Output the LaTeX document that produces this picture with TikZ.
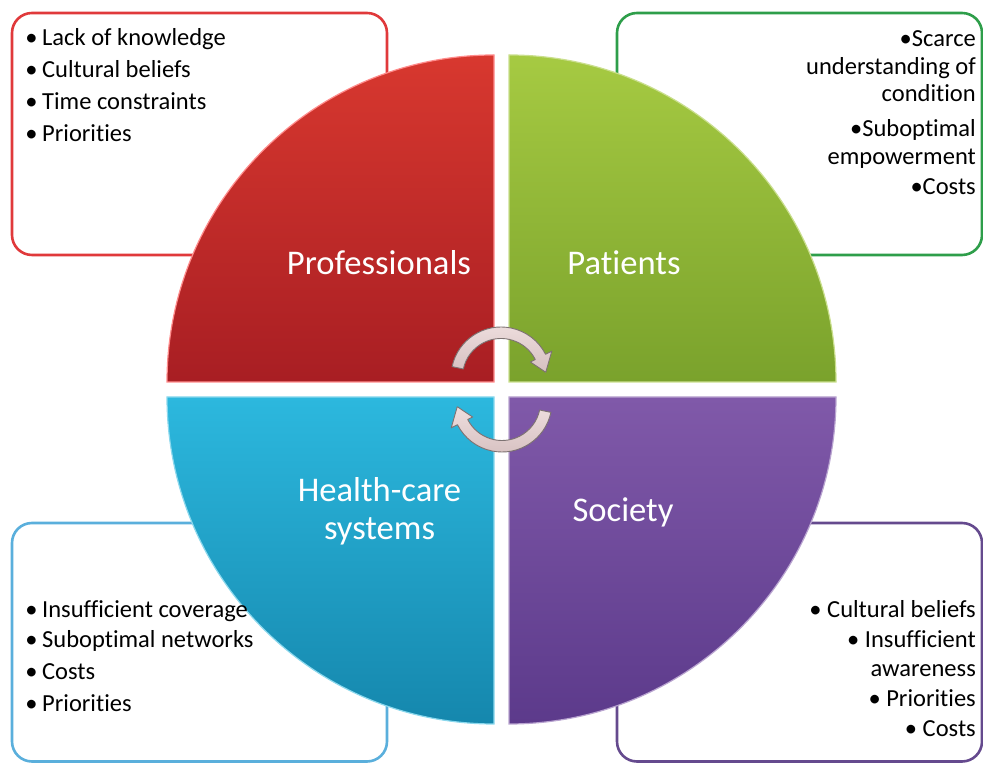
\documentclass[tikz,border=0pt]{standalone}
\usepackage{fontspec}
\setmainfont{Carlito}[Ligatures={NoCommon}]
\definecolor{redbox}{HTML}{E0393B}
\definecolor{greenbox}{HTML}{2E9E4A}
\definecolor{bluebox}{HTML}{5AAFDC}
\definecolor{purplebox}{HTML}{654A8E}
\definecolor{redtop}{HTML}{D8382F}
\definecolor{redbot}{HTML}{A81E23}
\definecolor{greentop}{HTML}{A6CA42}
\definecolor{greenbot}{HTML}{7AA22C}
\definecolor{bluetop}{HTML}{2CB8DE}
\definecolor{bluebot}{HTML}{1587AD}
\definecolor{purpletop}{HTML}{8059A9}
\definecolor{purplebot}{HTML}{5C3A8B}
\definecolor{arrowfill}{HTML}{EEDEDE}
\definecolor{arrowdark}{HTML}{D6C0C0}
\definecolor{arrowline}{HTML}{7D7272}
\begin{document}
\begin{tikzpicture}[x=1pt,y=1pt,
  infobox/.style={rounded corners=20pt, line width=2.6pt, fill=white},
  quad/.style={line width=1.2pt},
  btext/.style={inner sep=0pt, font=\fontsize{24.5}{30}\selectfont, text=black},
  qlabel/.style={inner sep=0pt, anchor=base, font=\fontsize{34.6}{38}\selectfont, text=white},
  arrowshape/.style={top color=arrowfill, bottom color=arrowdark, draw=arrowline, line width=0.9pt, line join=round}]
\useasboundingbox (0,0) rectangle (983,763);
% info boxes
\draw[infobox, draw=redbox] (12,508) rectangle (387,750);
\draw[infobox, draw=greenbox] (617,508) rectangle (982,750);
\draw[infobox, draw=bluebox] (12,1.5) rectangle (387,240);
\draw[infobox, draw=purplebox] (617,1.5) rectangle (982,240);
% quadrants
\shade[quad, top color=redtop, bottom color=redbot, draw=red!45!white]
  (494,381) -- (167,381) arc[start angle=180, end angle=90, radius=327] -- cycle;
\shade[quad, top color=greentop, bottom color=greenbot, draw=greentop!60!white]
  (509,381) -- (509,708) arc[start angle=90, end angle=0, radius=327] -- cycle;
\shade[quad, top color=bluetop, bottom color=bluebot, draw=bluetop!55!white]
  (494,366) -- (167,366) arc[start angle=180, end angle=270, radius=327] -- cycle;
\shade[quad, top color=purpletop, bottom color=purplebot, draw=purpletop!55!white]
  (509,366) -- (836,366) arc[start angle=0, end angle=-90, radius=327] -- cycle;
% quadrant labels
\node[qlabel] (prof) at (379,488) {Professionals};
\node[qlabel] (pat) at (624,488) {Patients};
\node[qlabel] (hc1) at (379.5,261) {Health-care};
\node[qlabel] (hc2) at (379.5,223) {systems};
\node[qlabel] (soc) at (623,241) {Society};
% cycle arrows
\coordinate (c1) at (501,386);
\coordinate (c2) at (502,361);
\path[arrowshape] ([shift={(168:50)}]c1) arc[start angle=168, end angle=27, radius=50]
  -- ([shift={(27:57)}]c1) -- ([shift={(6:45)}]c1) -- ([shift={(27:33)}]c1)
  -- ([shift={(27:38.5)}]c1) arc[start angle=27, end angle=168, radius=38.5] -- cycle;
\path[arrowshape] ([shift={(-12:50)}]c2) arc[start angle=-12, end angle=-153, radius=50]
  -- ([shift={(-153:57)}]c2) -- ([shift={(-174:45)}]c2) -- ([shift={(-153:33)}]c2)
  -- ([shift={(-153:38.5)}]c2) arc[start angle=-153, end angle=-12, radius=38.5] -- cycle;
% professionals text
\node[btext, anchor=base west] (r1) at (42,717) {\llap{•\hspace{4.5pt}}Lack of knowledge};
\node[btext, anchor=base west] (r2) at (42,685) {\llap{•\hspace{4.5pt}}Cultural beliefs};
\node[btext, anchor=base west] (r3) at (42,653) {\llap{•\hspace{4.5pt}}Time constraints};
\node[btext, anchor=base west] (r4) at (42,621) {\llap{•\hspace{4.5pt}}Priorities};
% patients text
\node[btext, anchor=base east] (g1) at (976,716) {•Scarce};
\node[btext, anchor=base east] (g2) at (976,688) {understanding of};
\node[btext, anchor=base east] (g3) at (976,661) {condition};
\node[btext, anchor=base east] (g4) at (976,626) {•Suboptimal};
\node[btext, anchor=base east] (g5) at (976,598) {empowerment};
\node[btext, anchor=base east] (g6) at (976,568) {•Costs};
% health-care text
\node[btext, anchor=base west] (b1) at (42,145) {\llap{•\hspace{4.5pt}}Insufficient coverage};
\node[btext, anchor=base west] (b2) at (42,115) {\llap{•\hspace{4.5pt}}Suboptimal networks};
\node[btext, anchor=base west] (b3) at (42,83) {\llap{•\hspace{4.5pt}}Costs};
\node[btext, anchor=base west] (b4) at (42,51) {\llap{•\hspace{4.5pt}}Priorities};
% society text
\node[btext, anchor=base east] (p1) at (976,145) {• Cultural beliefs};
\node[btext, anchor=base east] (p2) at (976,115) {• Insufficient};
\node[btext, anchor=base east] (p3) at (976,86) {awareness};
\node[btext, anchor=base east] (p4) at (976,56) {• Priorities};
\node[btext, anchor=base east] (p5) at (976,26) {• Costs};
\end{tikzpicture}
\end{document}
